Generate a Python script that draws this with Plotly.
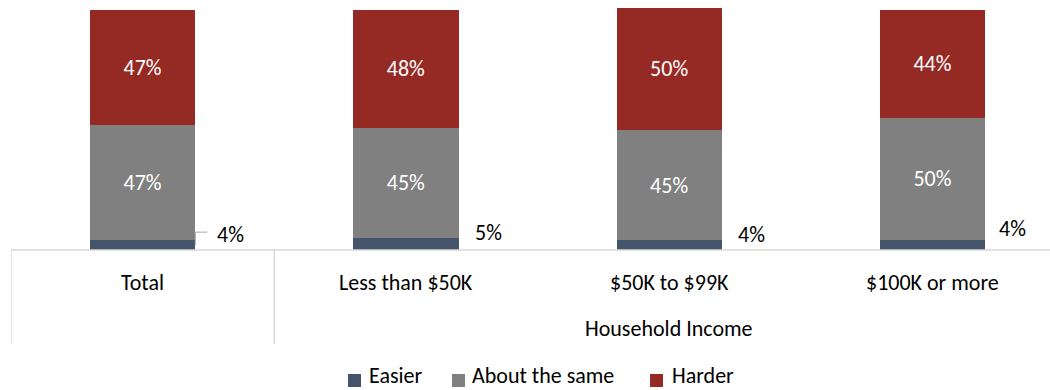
import plotly.graph_objects as go

categories = ["Total", "Less than $50K", "$50K to $99K", "$100K or more"]
easier = [4, 5, 4, 4]
about_same = [47, 45, 45, 50]
harder = [47, 48, 50, 44]
group_title = "Household Income"
series_names = ["Easier", "About the same", "Harder"]
series_colors = ["#44546A", "#808080", "#952923"]

x_pos = list(range(len(categories)))
FONT = "Carlito, Lato, sans-serif"
FS = 22
BAR_W = 0.4

# pixel helpers for the fixed 1050x390 canvas (plot area: x 11..1050, y 0..250)
def px_x(p):
    return (p - 11) / 1039

def px_y(p):
    return (250 - p) / 250

fig = go.Figure()
for name, vals, col in zip(series_names, [easier, about_same, harder], series_colors):
    inside = name != "Easier"
    fig.add_trace(go.Bar(
        x=x_pos, y=vals, name=name, width=BAR_W,
        marker=dict(color=col, line=dict(width=0)),
        text=[f"{v}%" for v in vals] if inside else None,
        textposition="inside" if inside else "none",
        insidetextanchor="middle", textangle=0,
        textfont=dict(color="white", size=FS, family=FONT),
        showlegend=False,
    ))

# "Easier" values sit outside, to the right of each bar
easier_offsets = [(0.332, 6.5), (0.315, 7.3), (0.313, 6.5), (0.302, 8.6)]
for i, v in enumerate(easier):
    dx, yy = easier_offsets[i]
    fig.add_annotation(x=i + dx, y=yy, xref="x", yref="y", text=f"{v}%",
                       showarrow=False, font=dict(size=FS, family=FONT, color="#000000"),
                       xanchor="center", yanchor="middle")

# leader line for the first label
edge = BAR_W / 2
fig.add_shape(type="line", xref="x", yref="y", x0=edge, x1=edge, y0=2, y1=7.3,
              line=dict(color="#A6A6A6", width=1))
fig.add_shape(type="line", xref="x", yref="y", x0=edge, x1=edge + 0.045, y0=7.3, y1=7.3,
              line=dict(color="#A6A6A6", width=1))

# axis baseline and category separators
fig.add_shape(type="line", xref="paper", yref="paper", x0=0, x1=1, y0=0, y1=0,
              line=dict(color="#D9D9D9", width=1.5))
for xv in [-0.5, 0.5]:
    fig.add_shape(type="line", xref="x", yref="paper", x0=xv, x1=xv, y0=0, y1=px_y(344),
                  line=dict(color="#D9D9D9", width=1.5))

# category labels and group title
for i, c in enumerate(categories):
    fig.add_annotation(x=i, y=px_y(282), xref="x", yref="paper", text=c, showarrow=False,
                       font=dict(size=FS, family=FONT, color="#000000"),
                       xanchor="center", yanchor="middle")
fig.add_annotation(x=2, y=px_y(328), xref="x", yref="paper", text=group_title, showarrow=False,
                   font=dict(size=FS, family=FONT, color="#000000"),
                   xanchor="center", yanchor="middle")

# legend: colour swatch followed by its label
legend_x = [(348, 368), (452, 471), (650, 671)]
for (sq_x, tx), name, col in zip(legend_x, series_names, series_colors):
    fig.add_shape(type="rect", xref="paper", yref="paper",
                  x0=px_x(sq_x), x1=px_x(sq_x + 13), y0=px_y(387), y1=px_y(374),
                  fillcolor=col, line=dict(width=0))
    fig.add_annotation(x=px_x(tx), y=px_y(390), xref="paper", yref="paper", text=name,
                       showarrow=False, font=dict(size=FS, family=FONT, color="#000000"),
                       xanchor="left", yanchor="bottom", borderpad=0)

fig.update_layout(
    barmode="stack",
    width=1050, height=390,
    margin=dict(l=11, r=0, t=0, b=140, autoexpand=False),
    paper_bgcolor="white", plot_bgcolor="white",
    xaxis=dict(range=[-0.5, -0.5 + 1039 / 263.3], showticklabels=False, showgrid=False,
               zeroline=False, showline=False),
    yaxis=dict(range=[0, 102.1], showticklabels=False, showgrid=False,
               zeroline=False, showline=False),
    showlegend=False,
    uniformtext=dict(mode="show", minsize=10),
)

fig.write_html("out.html")
